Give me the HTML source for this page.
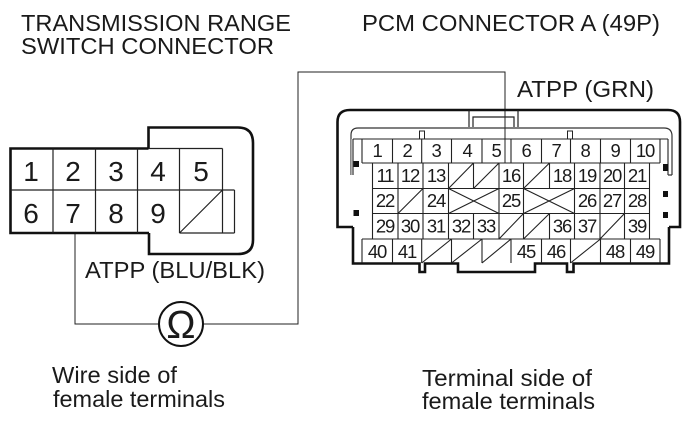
<!DOCTYPE html>
<html><head><meta charset="utf-8"><style>
html,body{margin:0;padding:0;background:#fff}
svg{display:block}
text{font-family:"Liberation Sans",sans-serif;fill:#1a1a1a}
.h{font-size:23px}
.a{font-size:28px;text-anchor:middle}
.b{font-size:18.5px;text-anchor:middle;letter-spacing:-1.2px}
</style></head><body>
<svg width="694" height="422" viewBox="0 0 694 422" xmlns="http://www.w3.org/2000/svg">
<rect width="694" height="422" fill="#fff"/>
<text class="h" x="21" y="31" textLength="270" lengthAdjust="spacingAndGlyphs">TRANSMISSION RANGE</text>
<text class="h" x="21" y="54" textLength="253" lengthAdjust="spacingAndGlyphs">SWITCH CONNECTOR</text>
<text class="h" x="362" y="31" textLength="298" lengthAdjust="spacingAndGlyphs">PCM CONNECTOR A (49P)</text>
<text class="h" x="517" y="97" textLength="137" lengthAdjust="spacingAndGlyphs">ATPP (GRN)</text>
<text class="h" x="85" y="278" textLength="180" lengthAdjust="spacingAndGlyphs">ATPP (BLU/BLK)</text>
<text class="h" x="52" y="383" textLength="125" lengthAdjust="spacingAndGlyphs">Wire side of</text>
<text class="h" x="53" y="407" textLength="172" lengthAdjust="spacingAndGlyphs">female terminals</text>
<text class="h" x="422" y="386" textLength="170" lengthAdjust="spacingAndGlyphs">Terminal side of</text>
<text class="h" x="422" y="409" textLength="173" lengthAdjust="spacingAndGlyphs">female terminals</text>

<!-- wire -->
<path d="M75 233V324H159M203 324H298V72H505V163" fill="none" stroke="#222" stroke-width="1"/>
<circle cx="181" cy="324" r="22" fill="#fff" stroke="#111" stroke-width="2"/>
<text x="181" y="338" font-size="39" text-anchor="middle">Ω</text>

<!-- left connector -->
<path d="M148.500 148.500V127.500H238Q253 127.500 253 143V240Q253 254 238 254H149V233" fill="none" stroke="#111" stroke-width="2.600"/>
<path d="M148.500 148.500H10.500V233H149" fill="none" stroke="#111" stroke-width="2.600"/>
<path d="M53 148.500V233M95.500 148.500V233M137.500 148.500V233M179.500 148.500V233M222.500 148.500V190M234.500 190V233M222.500 190V233M10.500 190H234.500M179.500 233H234.500M148.500 148.500H222.500M179.500 233L222.500 190" fill="none" stroke="#222" stroke-width="1.200"/>
<text class="a" x="31" y="181">1</text><text class="a" x="73" y="181">2</text><text class="a" x="116" y="181">3</text><text class="a" x="158" y="181">4</text><text class="a" x="201" y="181">5</text>
<text class="a" x="31" y="223">6</text><text class="a" x="73" y="223">7</text><text class="a" x="116" y="223">8</text><text class="a" x="158" y="223">9</text>

<!-- PCM shell -->
<path d="M353 227H337.500V122Q337.500 110 350 110H668Q680 110 680 122V227H669" fill="none" stroke="#111" stroke-width="2.600"/>
<path d="M353 227V263.500H419.500V272H425V263.500H458V272H535V263.500H567V272H573.500V263.500H669V227" fill="none" stroke="#111" stroke-width="2.600"/>
<path d="M469 110V127M473 127V117H514V127M518 110V127" fill="none" stroke="#222" stroke-width="1.200"/>
<path d="M351 175V135Q351 128 358 128H664Q672 128 672 136V175" fill="none" stroke="#333" stroke-width="1.200"/>
<path d="M353 175V139M668 175V139M668 175H672" fill="none" stroke="#333" stroke-width="1.200"/>
<rect x="350" y="139" width="1.500" height="36" fill="#888"/>
<rect x="419.500" y="131" width="5" height="8" fill="#fff" stroke="#222"/>
<rect x="567.500" y="131" width="5" height="8" fill="#fff" stroke="#222"/>
<rect x="353.500" y="161" width="5.500" height="6" fill="#111"/><rect x="353.500" y="210" width="5.500" height="6" fill="#111"/>
<rect x="663" y="164" width="5" height="7" fill="#111"/><rect x="663" y="191" width="5" height="6" fill="#111"/><rect x="663" y="212" width="5" height="6" fill="#111"/>

<!-- PCM grid -->
<path d="M353 139H668M362 163H660M372.500 188.500H649.500M372.500 213.500H649.500M362 239H660
M362 139V163M392.500 139V163M421.700 139V163M451.500 139V163M482 139V163M511 139V163M541.500 139V163M570.500 139V163M600.500 139V163M630.500 139V163M660 139V163
M362 239V263M392.500 239V263M421.700 239V263M451.500 239V263M482 239V263M511 239V263M541.500 239V263M570.500 239V263M600.500 239V263M630.500 239V263M660 239V263
M372.500 163V239M398 163V239M423 163V239M448.500 163V239M473.500 188.500V163M473.500 213.500V239M499 163V239M523.500 163V239M549.500 163V188.500M549.500 213.500V239M574.500 163V239M600 163V239M624.500 163V239M649.500 163V239
M448.500 188.500L473.500 163M473.500 188.500L499 163M523.500 188.500L549.500 163
M398 213.500L423 188.500
M448.500 188.500L499 213.500M448.500 213.500L499 188.500M523.500 188.500L574.500 213.500M523.500 213.500L574.500 188.500
M499 239L523.500 213.500M523.500 239L549.500 213.500M600 239L624.500 213.500
M421.700 263L451.500 239M451.500 263L482 239M482 263L511 239M570.500 263L600.500 239" fill="none" stroke="#222" stroke-width="1.100"/>

<text class="b" x="377" y="157">1</text><text class="b" x="407" y="157">2</text><text class="b" x="436" y="157">3</text><text class="b" x="467" y="157">4</text><text class="b" x="496" y="157">5</text><text class="b" x="526" y="157">6</text><text class="b" x="556" y="157">7</text><text class="b" x="585" y="157">8</text><text class="b" x="615" y="157">9</text><text class="b" x="645" y="157">10</text>

<text class="b" x="385" y="182">11</text><text class="b" x="410" y="182">12</text><text class="b" x="436" y="182">13</text><text class="b" x="511" y="182">16</text><text class="b" x="562" y="182">18</text><text class="b" x="587" y="182">19</text><text class="b" x="612" y="182">20</text><text class="b" x="637" y="182">21</text>

<text class="b" x="385" y="207">22</text><text class="b" x="436" y="207">24</text><text class="b" x="511" y="207">25</text><text class="b" x="587" y="207">26</text><text class="b" x="612" y="207">27</text><text class="b" x="637" y="207">28</text>

<text class="b" x="385" y="232.500">29</text><text class="b" x="410" y="232.500">30</text><text class="b" x="436" y="232.500">31</text><text class="b" x="461" y="232.500">32</text><text class="b" x="486" y="232.500">33</text><text class="b" x="562" y="232.500">36</text><text class="b" x="587" y="232.500">37</text><text class="b" x="637" y="232.500">39</text>

<text class="b" x="377" y="258">40</text><text class="b" x="407" y="258">41</text><text class="b" x="526" y="258">45</text><text class="b" x="556" y="258">46</text><text class="b" x="615" y="258">48</text><text class="b" x="645" y="258">49</text>
</svg>
</body></html>
